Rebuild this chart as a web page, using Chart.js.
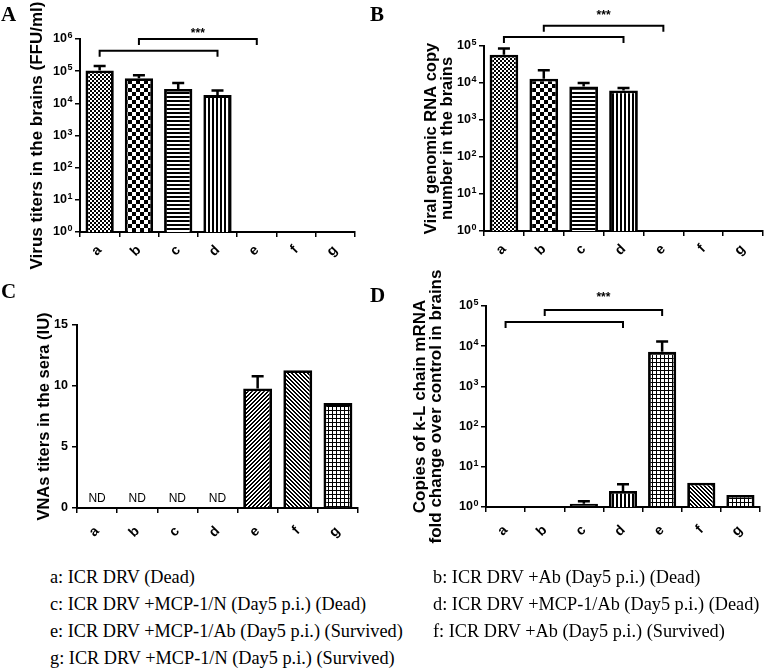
<!DOCTYPE html>
<html>
<head>
<meta charset="utf-8">
<script src="https://cdn.jsdelivr.net/npm/chart.js@4.4.1/dist/chart.umd.min.js"></script>
<style>
  body { margin: 0; background: #fff; }
  #fig { position: relative; width: 767px; height: 671px; overflow: hidden; background: #fff; }
  #fig canvas { position: absolute; }
  .tag { position: absolute; font: bold 21px "Liberation Serif", serif; color: #000; line-height: 1; }
  .leg { position: absolute; font: 18.3px "Liberation Serif", serif; color: #000; white-space: nowrap; line-height: 20px; }
</style>
</head>
<body>
<div id="fig">
  <canvas id="chartA" width="380" height="290" style="left:0;top:0"></canvas>
  <canvas id="chartB" width="387" height="290" style="left:380px;top:0"></canvas>
  <canvas id="chartC" width="380" height="260" style="left:0;top:290px"></canvas>
  <canvas id="chartD" width="387" height="288" style="left:380px;top:262px"></canvas>
  <div class="tag" style="left:1px;top:4px">A</div>
  <div class="tag" style="left:370px;top:4px">B</div>
  <div class="tag" style="left:1px;top:281px">C</div>
  <div class="tag" style="left:370px;top:285px">D</div>
</div>
<script>
// groups on the x axis
const groups = ['a', 'b', 'c', 'd', 'e', 'f', 'g'];

// A: virus titers in the brains (FFU/ml) - mean and mean+SD
const virusMean  = [1.05e5, 6.0e4, 2.8e4, 1.8e4, null, null, null];
const virusUpper = [1.45e5, 7.5e4, 4.3e4, 2.5e4, null, null, null];

// B: viral genomic RNA copy number
const rnaMean  = [5.8e4, 1.3e4, 8.0e3, 6.3e3, null, null, null];
const rnaUpper = [8.5e4, 2.2e4, 1.0e4, 7.3e3, null, null, null];

// C: VNA titers in the sera (IU)
const vnaMean  = [0, 0, 0, 0, 9.8, 11.3, 8.6];
const vnaUpper = [null, null, null, null, 10.8, null, null];
const vnaNote  = ['ND', 'ND', 'ND', 'ND', '', '', ''];

// D: k-L chain mRNA fold change
const klMean  = [1.0, 1.02, 1.2, 2.5, 7.3e3, 4.0, 2.0];
const klUpper = [null, null, 1.4, 3.7, 1.3e4, null, null];

// tick labels
const logTicks = [1, 10, 100, 1e3, 1e4, 1e5, 1e6];
const vnaTicks = [0, 5, 10, 15];

// legend text under the panels
const legendLeft  = ['a: ICR DRV (Dead)', 'c: ICR DRV +MCP-1/N (Day5 p.i.) (Dead)',
                     'e: ICR DRV +MCP-1/Ab (Day5 p.i.) (Survived)', 'g: ICR DRV +MCP-1/N (Day5 p.i.) (Survived)'];
const legendRight = ['b: ICR DRV +Ab (Day5 p.i.) (Dead)', 'd: ICR DRV +MCP-1/Ab (Day5 p.i.) (Dead)',
                     'f: ICR DRV +Ab (Day5 p.i.) (Survived)'];

// hatch fills like the Prism bars
function pattern(kind) {
  const c = document.createElement('canvas');
  const n = kind === 'check' ? 8 : 4;
  c.width = n; c.height = n;
  const g = c.getContext('2d');
  g.fillStyle = '#fff'; g.fillRect(0, 0, n, n);
  g.fillStyle = '#000';
  for (let x = 0; x < n; x++) {
    for (let y = 0; y < n; y++) {
      let on = false;
      if (kind === 'fine') on = ((x >> 1) + (y >> 1)) % 2 === 0;
      if (kind === 'check') on = ((x >> 2) + (y >> 2)) % 2 === 0;
      if (kind === 'hline') on = y < 2;
      if (kind === 'vline') on = x < 2;
      if (kind === 'up') on = (x + y) % 4 < 2;
      if (kind === 'down') on = (x - y + 4) % 4 < 2;
      if (kind === 'grid') on = x === 0 || y === 0;
      if (kind === 'solid') on = true;
      if (on) g.fillRect(x, y, 1, 1);
    }
  }
  return g.createPattern(c, 'repeat');
}

// error bars, significance brackets, ND notes, exponents on log ticks
const extras = {
  id: 'extras',
  afterDatasetsDraw(chart, args, opts) {
    const ctx = chart.ctx, xs = chart.scales.x, ys = chart.scales.y;
    const meta = chart.getDatasetMeta(0);
    ctx.save();
    ctx.strokeStyle = '#000';
    ctx.fillStyle = '#000';
    ctx.lineWidth = 2.5;
    (opts.upper || []).forEach((u, i) => {
      if (u == null) return;
      const bar = meta.data[i];
      const yt = ys.getPixelForValue(u);
      ctx.beginPath();
      ctx.moveTo(bar.x, bar.y); ctx.lineTo(bar.x, yt);
      ctx.moveTo(bar.x - 6, yt); ctx.lineTo(bar.x + 6, yt);
      ctx.stroke();
    });
    ctx.lineWidth = 2;
    let mid = null;
    (opts.brackets || []).forEach(b => {
      const x1 = xs.getPixelForValue(b.from), x2 = xs.getPixelForValue(b.to);
      const yb = ys.getPixelForValue(b.level);
      ctx.beginPath();
      ctx.moveTo(x1, yb + 6); ctx.lineTo(x1, yb); ctx.lineTo(x2, yb); ctx.lineTo(x2, yb + 6);
      ctx.stroke();
      mid = (x1 + x2) / 2;
    });
    if (opts.stars != null && mid != null) {
      ctx.font = 'bold 12px "Liberation Sans"';
      ctx.textAlign = 'center';
      ctx.textBaseline = 'middle';
      ctx.fillText('***', mid, ys.getPixelForValue(opts.stars));
    }
    if (opts.notes) {
      ctx.font = '12px "Liberation Sans"';
      ctx.textAlign = 'center';
      ctx.textBaseline = 'middle';
      opts.notes.forEach((t, i) => {
        if (t) ctx.fillText(t, xs.getPixelForValue(i), ys.getPixelForValue(opts.noteAt));
      });
    }
    if (opts.exponents) {
      ctx.font = 'bold 9px "Liberation Sans"';
      ctx.textAlign = 'left';
      ctx.textBaseline = 'alphabetic';
      const xr = ys.right - 5 - ys.options.ticks.padding;
      ys.ticks.forEach(t => {
        const yy = ys.getPixelForValue(t.value);
        ctx.fillText(String(Math.round(Math.log10(t.value))), xr + 0.5, yy - 1);
      });
    }
    ctx.restore();
  }
};

function makeChart(id, cfg) {
  const y = {
    type: cfg.log ? 'logarithmic' : 'linear',
    min: cfg.min, max: cfg.max,
    border: { color: '#000', width: 2 },
    grid: { drawOnChartArea: false, tickLength: 5, color: '#000', lineWidth: 1.5 },
    ticks: {
      color: '#000', font: { family: 'Liberation Sans', weight: 'bold', size: 12.5 },
      padding: cfg.log ? 8 : 4, autoSkip: false,
      callback: v => cfg.log ? '10' : String(v)
    },
    afterBuildTicks: s => { s.ticks = cfg.ticks.filter(v => v <= cfg.max).map(v => ({ value: v })); },
    afterFit: s => { s.width = cfg.yw; },
    title: {
      display: true, text: cfg.title, color: '#000', padding: 0,
      font: { family: 'Liberation Sans', weight: 'bold', size: cfg.titleSize, lineHeight: 0.95 }
    }
  };
  return new Chart(document.getElementById(id), {
    type: 'bar',
    data: {
      labels: groups,
      datasets: [{
        data: cfg.values,
        backgroundColor: cfg.fills.map(pattern),
        borderColor: '#000',
        borderWidth: 2.8,
        categoryPercentage: 1,
        barPercentage: 0.72
      }]
    },
    options: {
      responsive: false,
      animation: false,
      layout: { padding: cfg.pad },
      plugins: {
        legend: { display: false },
        tooltip: { enabled: false },
        extras: { upper: cfg.upper, brackets: cfg.brackets, stars: cfg.stars,
                  notes: cfg.notes, noteAt: cfg.noteAt, exponents: cfg.log }
      },
      scales: {
        x: {
          border: { color: '#000', width: 2 },
          grid: { drawOnChartArea: false, tickLength: 5, color: '#000', lineWidth: 1.5 },
          ticks: { color: '#000', font: { family: 'Liberation Sans', weight: 'bold', size: 14 },
                   minRotation: 45, maxRotation: 45, padding: cfg.xpad },
          afterFit: s => { s.height = cfg.xh; }
        },
        y: y
      }
    },
    plugins: [extras]
  });
}

makeChart('chartA', {
  log: true, min: 1, max: 1e6, ticks: logTicks,
  title: 'Virus titers in the brains (FFU/ml)', titleSize: 17,
  values: virusMean, upper: virusUpper,
  fills: ['fine', 'check', 'hline', 'vline', 'solid', 'solid', 'solid'],
  brackets: [{ from: 0, to: 3, level: 4.3e5 }, { from: 1, to: 4, level: 1e6 }], stars: 1.45e6,
  pad: { left: 29, top: 39, right: 25, bottom: 0 }, yw: 51, xh: 58, xpad: 5
});

makeChart('chartB', {
  log: true, min: 1, max: 1e5, ticks: logTicks,
  title: ['Viral genomic RNA copy', 'number in the brains'], titleSize: 16.5,
  values: rnaMean, upper: rnaUpper,
  fills: ['fine', 'check', 'hline', 'vline', 'solid', 'solid', 'solid'],
  brackets: [{ from: 0, to: 3, level: 1.75e5 }, { from: 1, to: 4, level: 3.5e5 }], stars: 6.5e5,
  pad: { left: 44, top: 46, right: 4, bottom: 0 }, yw: 60, xh: 59, xpad: 5
});

makeChart('chartC', {
  log: false, min: 0, max: 15, ticks: vnaTicks,
  title: 'VNAs titers in the sera (IU)', titleSize: 16.5,
  values: vnaMean, upper: vnaUpper,
  fills: ['solid', 'solid', 'solid', 'solid', 'up', 'down', 'grid'],
  notes: vnaNote, noteAt: 0.75,
  pad: { left: 37, top: 35, right: 22, bottom: 0 }, yw: 40, xh: 42, xpad: 10
});

makeChart('chartD', {
  log: true, min: 1, max: 1e5, ticks: logTicks,
  title: ['Copies of k-L chain mRNA', 'fold change over control in brains'], titleSize: 17,
  values: klMean, upper: klUpper,
  fills: ['solid', 'solid', 'solid', 'vline', 'grid', 'down', 'grid'],
  brackets: [{ from: 0, to: 3, level: 4e4 }, { from: 1, to: 4, level: 8e4 }], stars: 1.6e5,
  pad: { left: 32, top: 44, right: 7, bottom: 0 }, yw: 74, xh: 43, xpad: 10
});

// legend lines
const fig = document.getElementById('fig');
function addLegend(lines, left) {
  lines.forEach((t, i) => {
    const d = document.createElement('div');
    d.className = 'leg';
    d.style.left = left + 'px';
    d.style.top = (567 + i * 27) + 'px';
    d.textContent = t;
    fig.appendChild(d);
  });
}
addLegend(legendLeft, 50);
addLegend(legendRight, 433);
</script>
</body>
</html>
